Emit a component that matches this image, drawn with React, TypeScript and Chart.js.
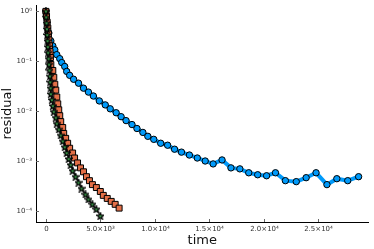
import React, { useEffect, useRef } from "react";
import { Chart, registerables } from "chart.js";

Chart.register(...registerables);

// Series 1 (blue circles)
const blueTime = [0, 270, 455, 636, 818, 1000, 1273, 1455, 1727, 1909, 2182, 2545, 3000, 3455, 3909, 4364, 4909, 5455, 5909, 6455, 6909, 7364, 7909, 8364, 8909, 9364, 9909, 10545, 11182, 11818, 12455, 13182, 13909, 14636, 15364, 16182, 17000, 17818, 18636, 19455, 20273, 21091, 22000, 23000, 23909, 24818, 25818, 26727, 27727, 28727];
const blueResid = [1.0, 0.369, 0.256, 0.204, 0.17, 0.136, 0.113, 0.0944, 0.0788, 0.0628, 0.0524, 0.0437, 0.0365, 0.029, 0.0242, 0.0202, 0.0161, 0.0134, 0.0112, 0.00934, 0.00779, 0.0065, 0.00542, 0.00452, 0.00377, 0.00315, 0.00274, 0.00229, 0.00209, 0.00174, 0.00152, 0.00133, 0.00116, 0.00101, 0.000883, 0.00106, 0.000736, 0.000703, 0.000587, 0.000536, 0.000512, 0.000587, 0.000408, 0.00039, 0.000468, 0.000587, 0.00034, 0.000447, 0.000408, 0.00049];

// Series 2 (orange squares)
const orangeTime = [0, 60, 120, 180, 230, 280, 330, 380, 420, 455, 636, 727, 818, 909, 1000, 1091, 1182, 1273, 1364, 1545, 1636, 1818, 2000, 2182, 2455, 2636, 2909, 3182, 3455, 3727, 4000, 4273, 4636, 5000, 5273, 5636, 6000, 6364, 6727];
const orangeResid = [1.0, 0.797, 0.607, 0.462, 0.352, 0.268, 0.204, 0.156, 0.119, 0.0863, 0.0657, 0.0479, 0.0348, 0.0265, 0.0193, 0.0141, 0.0107, 0.00815, 0.00621, 0.00473, 0.0036, 0.00287, 0.00229, 0.00182, 0.00146, 0.00116, 0.000924, 0.000736, 0.000614, 0.00049, 0.000408, 0.00034, 0.000297, 0.000248, 0.000207, 0.00018, 0.000157, 0.000137, 0.000115];

// Series 3 (green stars)
const greenTime = [0, 30, 60, 91, 120, 150, 180, 210, 250, 290, 330, 370, 400, 430, 455, 545, 636, 727, 909, 1000, 1182, 1364, 1545, 1727, 1909, 2091, 2273, 2455, 2727, 3000, 3273, 3636, 3909, 4273, 4636, 5000];
const greenResid = [1.0, 0.761, 0.58, 0.442, 0.337, 0.256, 0.195, 0.149, 0.113, 0.0863, 0.0657, 0.0501, 0.0381, 0.029, 0.0221, 0.0169, 0.0128, 0.00978, 0.00745, 0.00567, 0.00432, 0.00329, 0.00251, 0.00191, 0.00146, 0.00111, 0.000844, 0.000643, 0.00049, 0.000373, 0.000284, 0.000216, 0.000172, 0.000137, 0.000109, 0.0000797];

const xTickValues = [0, 5000, 10000, 15000, 20000, 25000];
const xTickLabels = ["0", "5.0×10³", "1.0×10⁴", "1.5×10⁴", "2.0×10⁴", "2.5×10⁴"];
const yTickValues = [1e-4, 1e-3, 1e-2, 1e-1, 1];
const yTickLabels = ["10⁻⁴", "10⁻³", "10⁻²", "10⁻¹", "10⁰"];

const xLabel = "time";
const yLabel = "residual";

function toPoints(xs: number[], ys: number[]) {
  return xs.map((x, i) => ({ x, y: ys[i] }));
}

function makeStar(): HTMLCanvasElement {
  const c = document.createElement("canvas");
  c.width = 8;
  c.height = 8;
  const ctx = c.getContext("2d")!;
  const cx = 4, cy = 4.2, R = 3.6, r = 1.5;
  ctx.beginPath();
  for (let i = 0; i < 10; i++) {
    const ang = -Math.PI / 2 + (i * Math.PI) / 5;
    const rad = i % 2 === 0 ? R : r;
    const px = cx + rad * Math.cos(ang);
    const py = cy + rad * Math.sin(ang);
    if (i === 0) ctx.moveTo(px, py);
    else ctx.lineTo(px, py);
  }
  ctx.closePath();
  ctx.fillStyle = "#3EA44E";
  ctx.fill();
  ctx.strokeStyle = "#000";
  ctx.lineWidth = 1.2;
  ctx.stroke();
  return c;
}

export default function App() {
  const ref = useRef<HTMLCanvasElement>(null);

  useEffect(() => {
    document.body.style.margin = "0";
    const canvas = ref.current!;
    const star = makeStar();

    const tickPlugin = {
      id: "insideTicksAndTitles",
      afterDraw(chart: any) {
        const ctx = chart.ctx;
        const xs = chart.scales.x;
        const ys = chart.scales.y;
        const area = chart.chartArea;
        ctx.save();
        ctx.strokeStyle = "#666";
        ctx.lineWidth = 1;
        ctx.fillStyle = "#333";
        ctx.font = "7px 'DejaVu Sans', sans-serif";
        xTickValues.forEach((v, i) => {
          const px = Math.round(xs.getPixelForValue(v)) + 0.5;
          ctx.beginPath();
          ctx.moveTo(px, area.bottom);
          ctx.lineTo(px, area.bottom - 3);
          ctx.stroke();
          ctx.textAlign = "center";
          ctx.textBaseline = "middle";
          ctx.fillText(xTickLabels[i], px, area.bottom + 7);
        });
        yTickValues.forEach((v, i) => {
          const py = Math.round(ys.getPixelForValue(v)) + 0.5;
          ctx.beginPath();
          ctx.moveTo(area.left, py);
          ctx.lineTo(area.left + 3, py);
          ctx.stroke();
          ctx.textAlign = "right";
          ctx.textBaseline = "middle";
          ctx.fillText(yTickLabels[i], area.left - 4, py);
        });
        ctx.fillStyle = "#111";
        ctx.font = "13px 'DejaVu Sans', sans-serif";
        ctx.textAlign = "center";
        ctx.textBaseline = "middle";
        ctx.fillText(xLabel, (area.left + area.right) / 2, 241);
        ctx.translate(8, (area.top + area.bottom) / 2);
        ctx.rotate(-Math.PI / 2);
        ctx.fillText(yLabel, 0, 0);
        ctx.restore();
      },
    };

    const chart = new Chart(canvas, {
      type: "line",
      data: {
        datasets: [
          {
            label: "y1",
            data: toPoints(blueTime, blueResid),
            borderColor: "#009AFA",
            backgroundColor: "#009AFA",
            borderWidth: 4,
            pointStyle: "circle",
            pointRadius: 3.2,
            pointBackgroundColor: "#009AFA",
            pointBorderColor: "#000",
            pointBorderWidth: 1,
            order: 3,
          },
          {
            label: "y2",
            data: toPoints(orangeTime, orangeResid),
            borderColor: "#999",
            backgroundColor: "#E36F47",
            borderWidth: 3,
            pointStyle: "rect",
            pointRadius: 4.2,
            pointBackgroundColor: "#E36F47",
            pointBorderColor: "#000",
            pointBorderWidth: 1,
            order: 2,
          },
          {
            label: "y3",
            data: toPoints(greenTime, greenResid),
            borderColor: "#555",
            backgroundColor: "#3EA44E",
            borderWidth: 1.5,
            pointStyle: star as any,
            pointRadius: 4,
            order: 1,
          },
        ],
      },
      options: {
        responsive: false,
        animation: false,
        events: [],
        layout: { padding: { top: 2, right: 2, left: 0, bottom: 0 } },
        plugins: {
          legend: { display: false },
          tooltip: { enabled: false },
        },
        elements: { line: { tension: 0 } },
        scales: {
          x: {
            type: "linear",
            min: -909,
            max: 29636,
            afterFit: (s: any) => {
              s.height = 27;
            },
            afterBuildTicks: (s: any) => {
              s.ticks = xTickValues.map((v) => ({ value: v }));
            },
            grid: { display: false },
            border: { display: true, color: "#000", width: 1 },
            ticks: { display: false },
          },
          y: {
            type: "logarithmic",
            min: 6.07e-5,
            max: 1.31,
            afterFit: (s: any) => {
              s.width = 36;
            },
            afterBuildTicks: (s: any) => {
              s.ticks = yTickValues.map((v) => ({ value: v }));
            },
            grid: { display: false },
            border: { display: true, color: "#000", width: 1 },
            ticks: { display: false },
          },
        },
      },
      plugins: [tickPlugin],
    } as any);

    return () => chart.destroy();
  }, []);

  return (
    <div style={{ position: "absolute", left: 0, top: 0 }}>
      <canvas ref={ref} width={374} height={249} />
    </div>
  );
}
